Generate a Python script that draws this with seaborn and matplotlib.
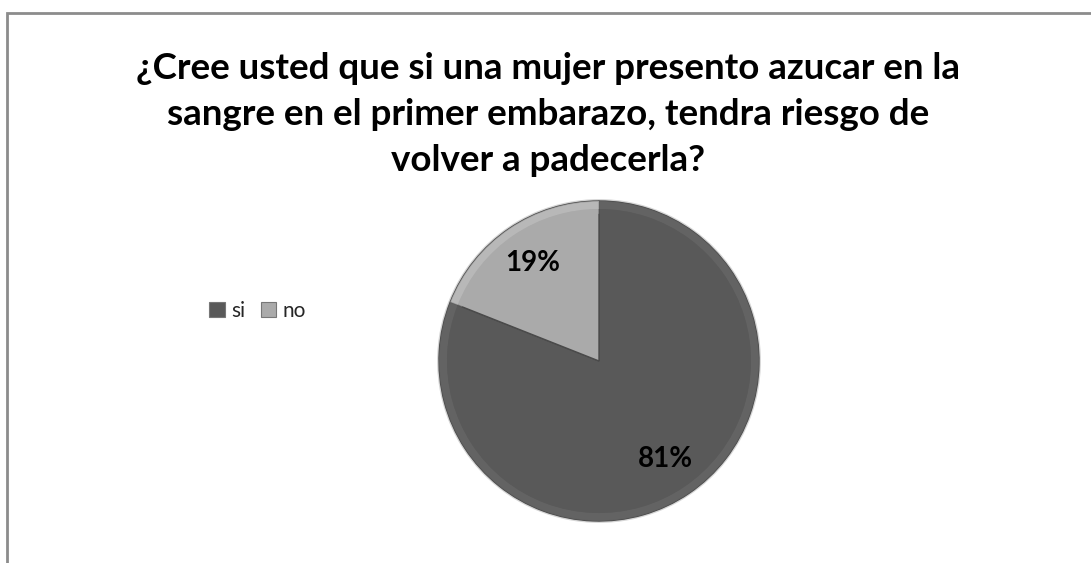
import matplotlib
matplotlib.use("Agg")
import matplotlib.pyplot as plt
import seaborn as sns
from matplotlib.patches import Rectangle

# Survey answers
categories = ["si", "no"]
shares = [81, 19]
title = ("¿Cree usted que si una mujer presento azucar en la\n"
         "sangre en el primer embarazo, tendra riesgo de\n"
         "volver a padecerla?")

sns.set_theme(style="white")
plt.rcParams["font.family"] = ["Lato", "DejaVu Sans"]

slice_colors = ["#595959", "#aaaaaa"]
rim_colors = ["#686868", "#bebebe"]

W, H = 1091, 563
fig = plt.figure(figsize=(W / 100, H / 100), dpi=100)
fig.patch.set_facecolor("white")

# chart-area frame (runs off the right and bottom edges)
fig.add_artist(Rectangle((6.5 / W, -0.05), 1.2, 1 - 13.5 / H + 0.05,
                         transform=fig.transFigure, fill=False,
                         edgecolor="#8c8c8c", linewidth=2.0))

# pie axes: centre (599, 361) px, radius 160 px
cx, cy, r = 599, 361, 160
ax = fig.add_axes([(cx - r) / W, (H - cy - r) / H, 2 * r / W, 2 * r / H])

# soft shadow under the pie
ax.pie([1], radius=1.012, colors=["#d6d6d6"], startangle=90,
       wedgeprops=dict(linewidth=0))

wedges, _, autotexts = ax.pie(
    shares, colors=slice_colors, startangle=90, counterclock=False,
    autopct="%d%%", pctdistance=0.74, radius=1.0,
    wedgeprops=dict(edgecolor="#4a4a4a", linewidth=1.0),
    textprops=dict(fontsize=20, fontweight="bold", color="black"))

# bevelled rim
ax.pie(shares, colors=rim_colors, startangle=90, counterclock=False,
       radius=1.0, wedgeprops=dict(width=0.05, edgecolor="none", alpha=0.7))
ax.pie(shares, colors=slice_colors, startangle=90, counterclock=False,
       radius=0.95, wedgeprops=dict(width=0.03, edgecolor="none", alpha=0.5))

for t in autotexts:
    t.set_zorder(10)

ax.set_xlim(-1.0, 1.0)
ax.set_ylim(-1.0, 1.0)
ax.set_aspect("equal")
ax.axis("off")

fig.text(548 / W, 1 - 52 / H, title, ha="center", va="top",
         fontsize=26.5, fontweight="bold", color="black", linespacing=1.48)

# legend
handles = [Rectangle((0, 0), 1, 1, facecolor=c, edgecolor="#777777", linewidth=0.8)
           for c in slice_colors]
fig.legend(handles, categories, loc="center left",
           bbox_to_anchor=(209 / W, 1 - 311 / H), ncol=2, frameon=False,
           fontsize=15, handlelength=0.75, handleheight=0.75,
           handletextpad=0.3, columnspacing=0.75, borderaxespad=0,
           borderpad=0)

fig.savefig("out.png", dpi=100, facecolor="white")
